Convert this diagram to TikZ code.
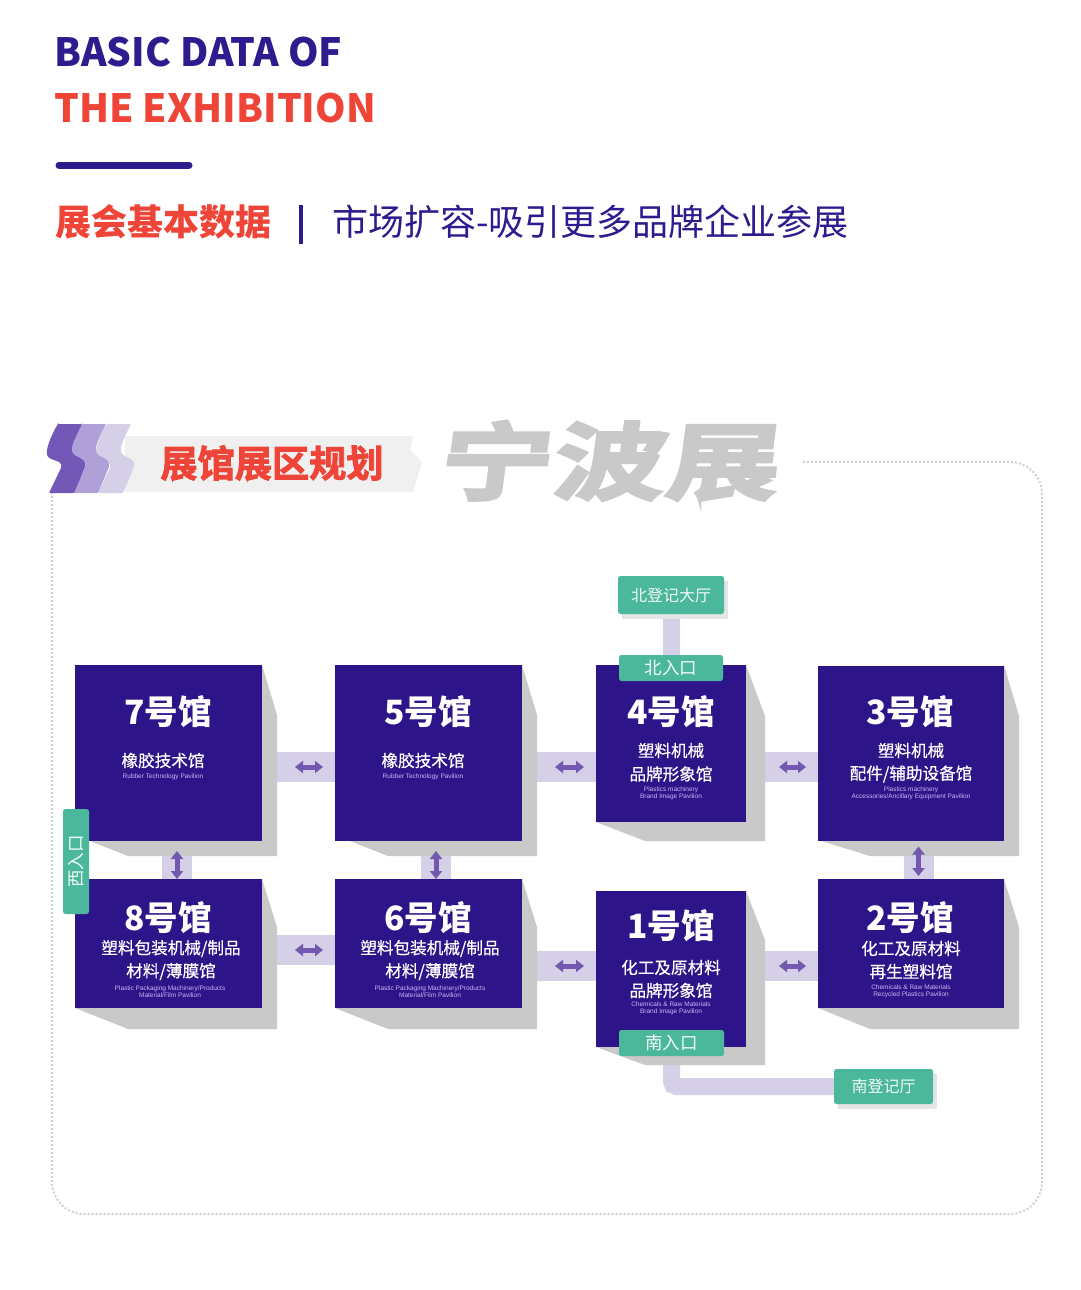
\documentclass[tikz,border=0pt]{standalone}
\usepackage{fontspec}
\usetikzlibrary{arrows.meta}
\newfontfamily\cjk{Noto Sans CJK SC}
\newfontfamily\cjkmed[FakeBold=0.5]{Noto Sans CJK SC}
\newfontfamily\cjkheavy[FakeBold=2.4]{Noto Sans CJK SC Bold}
\newfontfamily\cjkwide[FakeBold=3.5,FakeSlant=0.13,FakeStretch=1.35]{Noto Sans CJK SC Bold}
\newfontfamily\lib{Liberation Sans}
\definecolor{navy}{HTML}{2E1489}
\definecolor{titlenavy}{HTML}{2F1A8E}
\definecolor{redd}{HTML}{EE4538}
\definecolor{grn}{HTML}{4BB89B}
\definecolor{bandc}{HTML}{D6CFE8}
\definecolor{arrc}{HTML}{7358B0}
\definecolor{shad}{HTML}{C9C9C9}
\definecolor{enc}{HTML}{C8B8F5}
\pgfdeclarelayer{back}
\pgfsetlayers{back,main}
\tikzset{
  hallbox/.style={fill=navy,draw=none,inner sep=0pt,outer sep=0pt},
  shadowfill/.style={fill=shad,draw=none},
  greenbox/.style={fill=grn,draw=none,rounded corners=2.5pt,inner sep=0pt,outer sep=0pt,text=white!92!grn,align=center,font=\cjk\fontsize{16}{16}\selectfont},
  band/.style={draw=bandc,line width=30pt},
  thinband/.style={draw=bandc,line width=17pt,rounded corners=5pt},
  arr/.style={draw=arrc,line width=5pt,{Triangle[length=8pt,width=12pt]}-{Triangle[length=8pt,width=12pt]}},
  halltitle/.style={text=white,inner sep=0pt,font=\cjk\bfseries\fontsize{33.5}{33.5}\selectfont},
  hallsub/.style={text=white,inner sep=0pt,font=\cjkmed\fontsize{16.6}{16.6}\selectfont},
  hallen/.style={text=enc,inner sep=0pt,font=\lib\fontsize{6.5}{6.8}\selectfont,align=center},
}
\newcommand{\shadowpoly}[5]{\fill[shadowfill] #1 -- #2 -- #3 -- #4 -- #5 -- cycle;}
\begin{document}
\begin{tikzpicture}[x=1pt,y=-1pt]
\useasboundingbox (0,0) rectangle (1080,1290);
\begin{pgfonlayer}{back}
\fill[white] (0,0) rectangle (1080,1290);
\end{pgfonlayer}

% header
\node[anchor=west,inner sep=0pt,text=titlenavy,font=\cjk\bfseries\fontsize{38.9}{39}\selectfont] (t1) at (54,52) {BASIC DATA OF};
\node[anchor=west,inner sep=0pt,text=redd,font=\cjk\bfseries\fontsize{38.9}{39}\selectfont] (t2) at (54,108) {THE EXHIBITION};
\draw[titlenavy,line width=7pt,line cap=round] (59,165) -- (189,165);
\node[anchor=west,inner sep=0pt,text=redd,font=\cjk\bfseries\fontsize{36}{36}\selectfont] (s1) at (55,222) {展会基本数据};
\draw[titlenavy,line width=3.6pt] (301,205) -- (301,244);
\node[anchor=west,inner sep=0pt,text=titlenavy,font=\cjk\fontsize{36}{36}\selectfont] (s2) at (332,222) {市场扩容-吸引更多品牌企业参展};

% frame
\draw[shad!85!white,line width=2pt,dotted,rounded corners=32pt] (803,462) -- (1042,462) -- (1042,1214) -- (52,1214) -- (52,493);

% section banner
\fill[black!6] (125,436) -- (413,436) -- (410,450) -- (422,462) -- (413,492) -- (125,492) -- cycle;
\foreach \dx/\c in {49/D6CFE8,24/B0A0D8,0/7358B8}{
  \definecolor{tmpc}{HTML}{\c}
  \fill[tmpc,rounded corners=1pt,shift={(\dx,0)}] (58,424) -- (82,424) .. controls (77,434) and (71,446) .. (72,451) .. controls (74,458) and (86,457) .. (85,467) -- (74,493) -- (49,493) -- (61,468) .. controls (63,460) and (50,461) .. (47,455) .. controls (46,447) and (53,432) .. (58,424) -- cycle;
}
\node[inner sep=0pt,text=redd,font=\cjkheavy\fontsize{37.2}{37}\selectfont] (s3) at (272,463) {展馆展区规划};
\node[inner sep=0pt,text=shad,font=\cjkwide\fontsize{84}{84}\selectfont] (s4) at (607,461) {宁波展};

% shadows
\shadowpoly{(262,665)}{(277,715)}{(277,856)}{(128,856)}{(90,841)}
\shadowpoly{(522,665)}{(537,715)}{(537,856)}{(388,856)}{(350,841)}
\shadowpoly{(746,665)}{(765,716)}{(765,841)}{(645,841)}{(596,822)}
\shadowpoly{(1004,665)}{(1019,716)}{(1019,856)}{(870,856)}{(818,840)}
\shadowpoly{(262,879)}{(277,927)}{(277,1029)}{(128,1029)}{(75,1008)}
\shadowpoly{(522,879)}{(537,927)}{(537,1029)}{(388,1029)}{(335,1008)}
\shadowpoly{(746,891)}{(765,940)}{(765,1065)}{(645,1065)}{(596,1047)}
\shadowpoly{(1004,879)}{(1019,927)}{(1019,1029)}{(870,1029)}{(818,1008)}

% halls
\node[hallbox,minimum width=187pt,minimum height=176pt] (h7) at (168.5,753) {};
\node[hallbox,minimum width=187pt,minimum height=176pt] (h5) at (428.5,753) {};
\node[hallbox,minimum width=150pt,minimum height=157pt] (h4) at (671,743.5) {};
\node[hallbox,minimum width=186pt,minimum height=175pt] (h3) at (911,753) {};
\node[hallbox,minimum width=187pt,minimum height=129pt] (h8) at (168.5,943.5) {};
\node[hallbox,minimum width=187pt,minimum height=129pt] (h6) at (428.5,943.5) {};
\node[hallbox,minimum width=150pt,minimum height=156pt] (h1) at (671,969) {};
\node[hallbox,minimum width=186pt,minimum height=129pt] (h2) at (911,943.5) {};

% hall text
\node[halltitle] (a7) at (168,712) {7号馆};
\node[hallsub] (b7) at (163,760.5) {橡胶技术馆};
\node[hallen] (c7) at (163,776.5) {Rubber Technology Pavilion};

\node[halltitle] (a5) at (428,712) {5号馆};
\node[hallsub] (b5) at (423,760.5) {橡胶技术馆};
\node[hallen] (c5) at (423,776.5) {Rubber Technology Pavilion};

\node[halltitle] (a4) at (671,712) {4号馆};
\node[hallsub] (b4) at (671,750.5) {塑料机械};
\node[hallsub] (d4) at (671,774) {品牌形象馆};
\node[hallen] (c4) at (671,793) {Plastics machinery\\Brand Image Pavilion};

\node[halltitle] (a3) at (910,712) {3号馆};
\node[hallsub] (b3) at (911,750.5) {塑料机械};
\node[hallsub] (d3) at (911,774) {配件/辅助设备馆};
\node[hallen] (c3) at (911,793) {Plastics machinery\\Accessories/Ancillary Equipment Pavilion};

\node[halltitle] (a8) at (168,918) {8号馆};
\node[hallsub] (b8) at (171,948.5) {塑料包装机械/制品};
\node[hallsub] (d8) at (171,971.5) {材料/薄膜馆};
\node[hallen] (c8) at (170,991.5) {Plastic Packaging Machinery/Products\\Material/Film Pavilion};

\node[halltitle] (a6) at (428,918) {6号馆};
\node[hallsub] (b6) at (430,948.5) {塑料包装机械/制品};
\node[hallsub] (d6) at (430,971.5) {材料/薄膜馆};
\node[hallen] (c6) at (430,991.5) {Plastic Packaging Machinery/Products\\Material/Film Pavilion};

\node[halltitle] (a1) at (671,926) {1号馆};
\node[hallsub] (b1) at (671,967.5) {化工及原材料};
\node[hallsub] (d1) at (671,990.5) {品牌形象馆};
\node[hallen] (c1) at (671,1008) {Chemicals \& Raw Materials\\Brand Image Pavilion};

\node[halltitle] (a2) at (910,918) {2号馆};
\node[hallsub] (b2) at (911,948.5) {化工及原材料};
\node[hallsub] (d2) at (911,971.5) {再生塑料馆};
\node[hallen] (c2) at (911,991.5) {Chemicals \& Raw Materials\\Recycled Plastics Pavilion};

% green boxes
\fill[black!10] (622,581) rectangle (728,619);
\fill[black!10] (838,1074) rectangle (937,1109);
\node[greenbox,minimum width=106pt,minimum height=38pt] (nh) at (671,595) {北登记大厅};
\node[greenbox,minimum width=104pt,minimum height=26pt] (ne) at (671,668) {\fontsize{17.5}{17.5}\selectfont 北入口};
\node[greenbox,minimum width=105pt,minimum height=26pt] (se) at (671.5,1043) {\fontsize{17.5}{17.5}\selectfont 南入口};
\node[greenbox,minimum width=99pt,minimum height=35pt] (sh) at (883.5,1086.5) {南登记厅};
\node[greenbox,rotate=90,minimum width=105pt,minimum height=26pt] (we) at (76,861.5) {\fontsize{17.5}{17.5}\selectfont 西入口};

% connectors
\begin{pgfonlayer}{back}
\draw[band] (h7.east |- 0,767) -- (h5.west |- 0,767);
\draw[band] (h5.east |- 0,767) -- (h4.west |- 0,767);
\draw[band] (h4.east |- 0,767) -- (h3.west |- 0,767);
\draw[band] (h8.east |- 0,950) -- (h6.west |- 0,950);
\draw[band] (h6.east |- 0,966) -- (h1.west |- 0,966);
\draw[band] (h1.east |- 0,966) -- (h2.west |- 0,966);
\draw[band] (h7.south -| 177,0) -- (h8.north -| 177,0);
\draw[band] (h5.south -| 436,0) -- (h6.north -| 436,0);
\draw[band] (h3.south -| 918.5,0) -- (h2.north -| 918.5,0);
\draw[thinband] (nh.south) -- (ne.north);
\draw[thinband] (se.south) |- (sh.west);
\end{pgfonlayer}
\draw[arr,shorten <=33pt,shorten >=12pt] (h7.east |- 0,767) -- (h5.west |- 0,767);
\draw[arr,shorten <=33pt,shorten >=12pt] (h5.east |- 0,767) -- (h4.west |- 0,767);
\draw[arr,shorten <=33pt,shorten >=12pt] (h4.east |- 0,767) -- (h3.west |- 0,767);
\draw[arr,shorten <=33pt,shorten >=12pt] (h8.east |- 0,950) -- (h6.west |- 0,950);
\draw[arr,shorten <=33pt,shorten >=12pt] (h6.east |- 0,966) -- (h1.west |- 0,966);
\draw[arr,shorten <=33pt,shorten >=12pt] (h1.east |- 0,966) -- (h2.west |- 0,966);
\draw[arr,shorten <=10pt] (h7.south -| 177,0) -- (h8.north -| 177,0);
\draw[arr,shorten <=10pt] (h5.south -| 436,0) -- (h6.north -| 436,0);
\draw[arr,shorten <=6pt,shorten >=3pt] (h3.south -| 918.5,0) -- (h2.north -| 918.5,0);
\end{tikzpicture}
\end{document}
